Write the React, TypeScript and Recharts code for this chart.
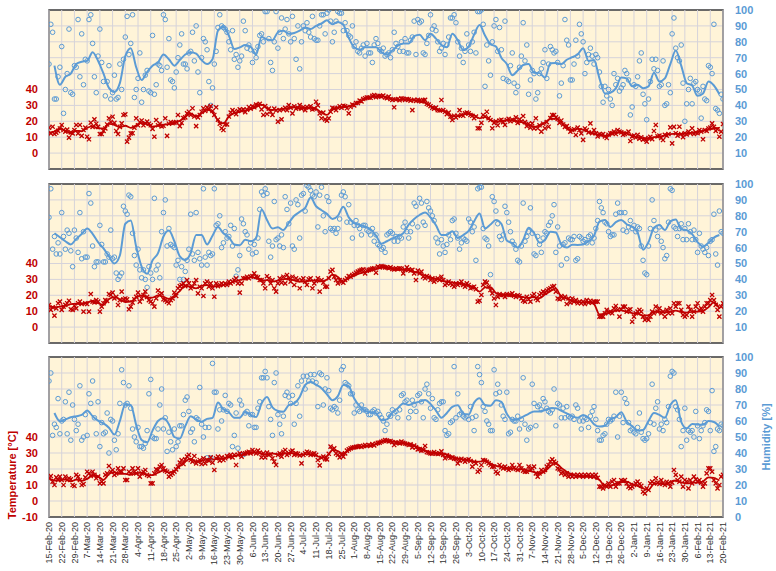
import React from 'react';
import { ComposedChart, Line, Scatter, XAxis, YAxis, CartesianGrid, ReferenceArea, ReferenceLine } from 'recharts';

// ---------- axis labels ----------
const TICK_LABELS = [
  '15-Feb-20', '22-Feb-20', '29-Feb-20', '7-Mar-20', '14-Mar-20', '21-Mar-20', '28-Mar-20',
  '4-Apr-20', '11-Apr-20', '18-Apr-20', '25-Apr-20', '2-May-20', '9-May-20', '16-May-20',
  '23-May-20', '30-May-20', '6-Jun-20', '13-Jun-20', '20-Jun-20', '27-Jun-20', '4-Jul-20',
  '11-Jul-20', '18-Jul-20', '25-Jul-20', '1-Aug-20', '8-Aug-20', '15-Aug-20', '22-Aug-20',
  '29-Aug-20', '5-Sep-20', '12-Sep-20', '19-Sep-20', '26-Sep-20', '3-Oct-20', '10-Oct-20',
  '17-Oct-20', '24-Oct-20', '31-Oct-20', '7-Nov-20', '14-Nov-20', '21-Nov-20', '28-Nov-20',
  '5-Dec-20', '12-Dec-20', '19-Dec-20', '26-Dec-20', '2-Jan-21', '9-Jan-21', '16-Jan-21',
  '23-Jan-21', '30-Jan-21', '6-Feb-21', '13-Feb-21', '20-Feb-21',
];
const DAYS_PER_TICK = 7;
const LAST_DAY = 371;
const TEMP_TICKS_TOP = [0, 10, 20, 30, 40];
const TEMP_TICKS_BOTTOM = [-10, 0, 10, 20, 30, 40];
const HUM_TICKS_TOP = [10, 20, 30, 40, 50, 60, 70, 80, 90, 100];
const HUM_TICKS_BOTTOM = [0, 10, 20, 30, 40, 50, 60, 70, 80, 90, 100];

// trend (moving average) sampling
const HUM_TREND_START = 3;
const TEMP_TREND_START = 0;
const TREND_STEP = 3;

// ---------- panel 1 ----------
const P1_HUM = [
  66, 91, 86, 44, 44, 58, 64,
  77, 35, 50, 60, 88, 48, 47,
  65, 64, 94, 58, 85, 53, 69,
  68, 94, 97, 79, 58, 48, 71,
  88, 67, 55, 46, 55, 65, 44,
  48, 59, 44, 45, 66, 50, 69,
  83, 96, 72, 79, 97, 45, 50,
  57, 73, 42, 50, 59, 62, 49,
  48, 84, 47, 53, 66, 65, 62,
  97, 94, 64, 82, 56, 55, 51,
  61, 70, 78, 85, 66, 66, 63,
  73, 74, 86, 68, 90, 61, 48,
  70, 82, 80, 75, 55, 40, 51,
  66, 74, 89, 97, 90, 89, 88,
  86, 80, 75, 87, 69, 72, 64,
  68, 71, 93, 87, 76, 78, 75,
  67, 74, 70, 77, 84, 85, 80,
  99, 99, 82, 67, 62, 80, 99,
  76, 86, 95, 82, 88, 94, 85,
  80, 96, 82, 69, 90, 63, 80,
  90, 87, 92, 86, 83, 96, 82,
  81, 81, 90, 97, 97, 85, 98,
  100, 93, 80, 86, 93, 99, 98,
  98, 87, 92, 87, 84, 83, 90,
  77, 80, 74, 73, 76, 78, 71,
  79, 73, 73, 67, 78, 82, 79,
  75, 74, 76, 71, 72, 73, 70,
  75, 86, 79, 77, 74, 80, 74,
  82, 73, 73, 81, 83, 93, 72,
  94, 92, 93, 73, 72, 79, 84,
  97, 88, 90, 87, 80, 74, 76,
  79, 72, 78, 83, 95, 95, 97,
  92, 80, 71, 76, 67, 74, 85,
  78, 74, 80, 86, 73, 99, 99,
  100, 91, 52, 78, 68, 59, 80,
  90, 94, 74, 89, 75, 57, 93,
  56, 55, 65, 73, 54, 48, 52,
  64, 71, 92, 68, 78, 47, 56,
  62, 60, 44, 48, 60, 63, 67,
  75, 57, 66, 77, 75, 73, 74,
  67, 46, 54, 65, 94, 81, 78,
  56, 56, 66, 81, 71, 91, 85,
  80, 60, 67, 72, 76, 71, 66,
  72, 70, 61, 52, 42, 52, 46,
  50, 44, 40, 60, 53, 57, 49,
  51, 53, 62, 60, 56, 34, 39,
  53, 52, 58, 68, 73, 47, 41,
  31, 44, 55, 69, 63, 69, 62,
  52, 53, 68, 40, 41, 53, 48,
  85, 95, 76, 70, 68, 78, 54,
  30, 41, 50, 57, 41, 54, 55,
  50, 49, 32, 52, 44, 43, 65,
  64, 60, 91, 38, 37, 35, 47,
  44,
];
const P1_TEMP = [
  16, 12.4, 16.6, 12, 12.9, 14, 15.5,
  17.7, 14.5, 13.5, 14.8, 9.7, 13, 12.4,
  14.5, 17.7, 12.4, 17.7, 10.8, 14.5, 16,
  10.3, 8.7, 19.1, 16.5, 21.2, 18.5, 16.5,
  12, 12, 14, 15.5, 18, 21.9, 19.6,
  22.9, 19, 13.9, 12, 16.5, 18.7, 24,
  24.4, 7.2, 9.7, 12.4, 12.5, 16, 21.9,
  17.5, 19.5, 20.5, 17.5, 18.8, 19.8, 18.5,
  17.5, 15.2, 10.3, 20.8, 17.5, 18.5, 16.8,
  17.2, 21.9, 10.8, 18.5, 19.5, 18.8, 19.2,
  19.5, 24, 17, 19, 22, 22.5, 25,
  26, 24, 28.2, 23, 17, 22.5, 24,
  26, 28.2, 26.5, 28.8, 27.5, 29.6, 26.5,
  24, 28.8, 21, 18.5, 15.6, 14.5, 18,
  18, 23, 25.5, 27, 26, 24.5, 26.5,
  27.5, 26.8, 27.5, 25.8, 27.3, 29, 28,
  29.5, 28.8, 30.5, 30.2, 31, 27.5, 24,
  29.6, 24.6, 28, 26, 24, 28, 26.8,
  19.8, 27, 21.2, 27.5, 28.5, 27, 30.2,
  28.5, 25, 29.5, 28, 28.5, 30.2, 28,
  29, 27, 29, 28.5, 29.5, 27.5, 28,
  32.3, 30, 25, 21.9, 25.5, 21.2, 20.4,
  21.9, 26, 28.5, 28, 27, 28.5, 29.5,
  28.5, 29.8, 29.5, 28.2, 25, 29, 30.5,
  30, 31.5, 31.5, 33, 32.5, 34, 34.5,
  35, 35, 34.8, 36, 36.5, 35.2, 35.8,
  36, 35.5, 36.2, 35, 34.6, 35.5, 34,
  33.5, 28.8, 33.7, 34, 33.2, 34.4, 34.2,
  33.5, 34, 33.8, 33, 27, 33.5, 32.8,
  33.5, 33, 32.5, 33.3, 33.5, 31, 30.5,
  29.5, 28.5, 28, 28.6, 27, 26.8, 33.4,
  27, 26, 24.5, 25.5, 22.9, 20.8, 23.5,
  22.5, 23.5, 27, 24, 23.5, 25, 25.5,
  25, 24, 23.5, 22, 23, 15.6, 15.6,
  19, 24, 23, 26, 22, 20.8, 15.6,
  19, 20, 17.5, 20.5, 21, 19.5, 17.7,
  20.8, 21.5, 20, 21, 20.5, 22.5, 19,
  21.2, 20, 23.3, 19.5, 17, 18.5, 16,
  18.7, 15.5, 21.9, 15.6, 17.5, 13.5, 18.5,
  15.6, 19.5, 16.6, 22, 24, 24, 22.5,
  21.5, 19, 20.5, 18, 16.5, 17, 15.5,
  13.5, 14.5, 15, 11.4, 16, 14.5, 12.4,
  8.3, 15.5, 14.5, 13, 18.7, 12.5, 14.5,
  12.5, 10.5, 12, 11.5, 12, 10.5, 9.5,
  11.5, 12.5, 12.5, 13.5, 12, 14.5, 13.5,
  13, 11.5, 12, 12.5, 13.5, 7.6, 10.5,
  11, 9.8, 11.5, 9, 10, 8.5, 9,
  7.2, 9.5, 10.2, 8.8, 13.9, 17.7, 10.5,
  11, 9.5, 8.2, 11.5, 11, 12, 16.2,
  6.1, 16.5, 12.5, 11, 16.6, 12, 10,
  12.5, 11.8, 13.5, 12.5, 15.6, 12, 13,
  12.5, 14.5, 13.5, 8.7, 14.5, 14, 15.5,
  16, 18.7, 16.5, 14, 15, 10.3, 13.5,
  18.3,
];
const P1_HUM_TREND = [
  65, 53, 58, 60, 66, 67.5, 68, 73.5, 68, 60,
  51, 48.5, 54, 71, 76, 64, 56, 61, 65, 67,
  72, 69, 65, 68.5, 72, 73.5, 72.5, 68.5, 66, 69,
  87, 89.5, 84, 75.5, 76.5, 78, 77, 72, 83, 81.5,
  81, 86, 87, 85, 85.5, 87, 89, 88, 90, 91.5,
  93.5, 91, 92.5, 90.6, 82.5, 76.5, 75, 76.5, 76.5, 76.5,
  73.5, 72, 74.5, 77.5, 79, 79, 83.5, 84.5, 81, 85,
  82, 78, 76.5, 85, 81, 74.8, 77, 84.5, 90.5, 84,
  78.5, 77, 70, 66, 59, 62, 65.4, 66, 60.5, 60.3,
  57.5, 66.5, 66.7, 66, 68.7, 70.3, 72, 76, 68, 68.5,
  57, 47.5, 48, 50.7, 57.5, 57, 52, 53, 50.8, 52,
  60.5, 55, 57, 66, 74.5, 65, 54, 52.5, 46, 47.5,
  55, 52.5, 47,
];
const P1_TEMP_TREND = [
  12.8,
  13.5, 15.6, 14, 12.5, 14, 13.8, 15.8, 17, 15.5, 15.6,
  18.4, 17.8, 16.2, 17.2, 15.9, 17.4, 19, 18.2, 16.7, 17.2,
  17.7, 18.3, 18.8, 20.3, 23, 25, 23, 25, 27.4, 25.8,
  20.5, 18.7, 23, 25.1, 26, 26.8, 27.6, 29, 30.5, 28,
  27.2, 27.4, 27.8, 28.4, 28.8, 28.2, 28.6, 28.5, 27.8, 25.5,
  24, 27.5, 28.6, 29, 29.6, 30.5, 32.2, 34, 35, 35.7,
  35.8, 35, 34, 33.5, 33.7, 33.8, 33.3, 32.4, 31.6, 29.5,
  27.6, 26.8, 25.8, 23.2, 23.2, 24.2, 24.8, 23.8, 21.9, 22.6,
  20.8, 19.8, 20, 20.8, 20.8, 20, 19.2, 17.8, 16.5, 17.5,
  19.3, 21.5, 21.5, 19.5, 15.5, 14.3, 15.2, 14.8, 13.2, 12.2,
  11.4, 10.6, 11.5, 13, 13.2, 12.4, 10.8, 10, 9.2, 9,
  10, 10.3, 11.2, 12, 12.2, 12, 12.4, 12.8, 13.3, 14,
  14.8, 15.6, 15.8,
];

// ---------- panel 2 ----------
const P2_HUM = [
  79, 97, 59, 67, 56, 63, 56,
  82, 67, 59, 71, 69, 58, 48,
  71, 66, 57, 82, 53, 70, 54,
  54, 94, 88, 61, 48, 51, 51,
  74, 62, 51, 51, 56, 54, 71,
  53, 54, 44, 40, 42, 44, 86,
  83, 81, 93, 92, 69, 55, 49,
  59, 46, 41, 46, 40, 35, 48,
  44, 40, 91, 46, 49, 41, 70,
  82, 90, 61, 72, 62, 61, 60,
  49, 52, 40, 48, 40, 45, 52,
  59, 81, 56, 52, 82, 57, 53,
  49, 97, 54, 49, 57, 55, 56,
  97, 74, 75, 80, 60, 63, 70,
  66, 67, 74, 61, 72, 42, 46,
  55, 78, 75, 70, 68, 59, 63,
  56, 62, 57, 66, 84, 95, 93,
  97, 94, 64, 54, 61, 89, 65,
  66, 61, 68, 60, 92, 84, 75,
  88, 61, 59, 90, 87, 66, 93,
  94, 83, 99, 98, 96, 93, 92,
  95, 73, 93, 98, 80, 70, 92,
  89, 72, 71, 72, 69, 72, 78,
  93, 95, 92, 76, 87, 76, 66,
  74, 77, 74, 72, 68, 74, 74,
  71, 70, 68, 72, 64, 68, 62,
  61, 59, 60, 57, 68, 69, 70,
  69, 64, 67, 64, 67, 66, 73,
  76, 70, 66, 70, 75, 88, 86,
  73, 91, 88, 76, 74, 89, 85,
  83, 80, 77, 66, 63, 56, 65,
  61, 57, 62, 68, 65, 77, 78,
  69, 66, 59, 63, 66, 65, 64,
  78, 76, 70, 73, 52, 97, 98,
  98, 72, 66, 65, 61, 43, 92,
  89, 83, 75, 67, 65, 68, 86,
  82, 76, 70, 64, 62, 59, 52,
  51, 61, 88, 64, 67, 70, 85,
  69, 56, 55, 67, 62, 57, 66,
  70, 69, 74, 76, 80, 87, 57,
  73, 61, 49, 62, 63, 53, 66,
  65, 65, 67, 52, 53, 67, 66,
  64, 65, 63, 67, 68, 63, 66,
  72, 77, 89, 85, 82, 76, 75,
  70, 67, 68, 68, 81, 88, 82,
  82, 71, 82, 70, 73, 77, 72,
  74, 70, 73, 72, 61, 52, 44,
  43, 61, 72, 90, 77, 71, 67,
  73, 64, 60, 53, 55, 76, 97,
  96, 73, 72, 67, 72, 75, 65,
  72, 65, 75, 70, 65, 71, 65,
  57, 69, 61, 59, 57, 60, 55,
  64, 65, 81, 56, 49, 83, 70,
  69,
];
const P2_TEMP = [
  13.9, 10.8, 12.5, 7.2, 11.8, 15, 16,
  10.8, 12.9, 14, 15, 16.6, 11.2, 10.8,
  13.5, 11.8, 15, 16, 14.5, 9.7, 15,
  14.5, 9.7, 20.8, 16, 15.5, 17, 16,
  9.7, 12.9, 15, 17, 16.5, 20.8, 20.2,
  21.7, 18, 19, 13.9, 17, 22.3, 17.5,
  18, 17.5, 11.2, 12.9, 15.4, 17.5, 19,
  21.7, 16, 18, 20.2, 22.3, 19, 17,
  16, 15, 12.9, 18, 23, 20.2, 21.2,
  17.5, 17, 16, 15, 17, 18, 21.7,
  19.6, 24.4, 25.8, 26.5, 27.5, 25.8, 29.6,
  27.5, 24.4, 25.4, 27.5, 29.6, 21.2, 25.4,
  24.4, 19.6, 27.5, 28.6, 25.4, 27.5, 24.4,
  19.1, 27.5, 25.8, 26.5, 27.5, 26.5, 27.5,
  26.5, 28.6, 27.5, 28.6, 29.6, 30.7, 27.5,
  21.7, 27.5, 30.7, 30.7, 31.7, 30.7, 31.7,
  32.1, 33.8, 31.7, 31.3, 29.6, 29.6, 27.5,
  24.4, 32, 30.7, 27.5, 29.6, 24.4, 22.3,
  27.5, 30.7, 28, 31.7, 27.5, 32.8, 30.7,
  28.6, 31.7, 26.5, 30.7, 29.6, 24.4, 29.6,
  30.7, 28.5, 26.5, 30, 30.7, 24.4, 27.5,
  29, 30.7, 22.3, 29.6, 28, 25.4, 25.4,
  30.7, 34.9, 36, 31.7, 29.6, 27.5, 29.6,
  28.6, 28, 29.6, 30.7, 32.1, 31.7, 32.8,
  33.4, 34.2, 34.9, 35.5, 36, 36.3, 33.8,
  35.5, 36, 36.3, 36.8, 37, 34.2, 38,
  37.6, 38.4, 38, 37.6, 37.6, 37, 37.6,
  36.5, 36.3, 37, 36.5, 37, 36.8, 33.8,
  36, 37.6, 36.3, 35.5, 36, 33.8, 29.6,
  35.5, 33.8, 34.9, 31.7, 30.7, 32.1, 31.5,
  29.6, 30.7, 28.6, 29.6, 30.7, 29.6, 31.7,
  29.6, 26.5, 27.5, 28.6, 27.5, 26.5, 25.4,
  27.5, 26.5, 27.5, 28.6, 26.5, 25.4, 27.5,
  26.5, 24.4, 25, 25.4, 23.8, 16, 16.6,
  20.2, 26.5, 28.6, 28, 25.4, 23.3, 21.2,
  18, 13.9, 19, 20.8, 20, 20.2, 19,
  20.8, 20.2, 20.2, 21.2, 19.8, 19, 20,
  19.6, 18, 16.6, 16, 19, 17.5, 16,
  19.6, 20.8, 18, 17, 20.2, 21.2, 22.3,
  21.7, 23, 23.8, 24.4, 25.4, 25.8, 22.3,
  18, 17.5, 19.6, 18, 19, 14.5, 18,
  15.4, 18, 16, 17, 15, 16, 15,
  16, 14.5, 17, 15.4, 16.6, 15.4, 16,
  16, 16, 6.6, 6.6, 6.6, 8.7, 10.8,
  9.1, 9.7, 8.7, 11.8, 13.3, 10.8, 6.6,
  11.2, 12.9, 12.9, 9.7, 10.8, 11.2, 3.4,
  6.6, 8.7, 9.7, 10.8, 9.7, 6.6, 4.5,
  5.5, 4.5, 6.6, 9.7, 8.7, 12.9, 9.7,
  11.8, 8.7, 9.7, 6.6, 10.8, 8.7, 11.8,
  8.7, 15, 12.9, 15, 15, 10.8, 7.6,
  6.6, 7.6, 12.9, 10.8, 6.6, 9.7, 12.9,
  15, 10.8, 11.8, 9.7, 12.9, 15, 15,
  17, 20.2, 17, 14, 10.8, 6.6, 12.9,
  15,
];
const P2_HUM_TREND = [
  69, 66.5, 64, 62, 65.5, 68.5, 72, 68.7, 63.5, 59.5,
  54.5, 50, 55, 75, 77, 60.5, 48, 43.5, 52, 56.5,
  67, 70.7, 64, 54.5, 52.2, 56.5, 68, 68, 62, 67.5,
  73, 69, 66.5, 62, 61.5, 65, 64, 66, 84, 77.3,
  72, 72.8, 71, 75.5, 80, 82.5, 85, 91.5, 86, 83.5,
  81.2, 78, 80, 85.7, 79, 75.3, 74.2, 73.2, 71.5, 67.5,
  62.5, 64, 65.8, 67.3, 69, 74.5, 78, 80.5, 82, 79,
  74, 68, 68, 70.3, 66, 67.9, 70.5, 76.5, 81.5, 72,
  74.5, 77.4, 75, 64.5, 62.8, 60, 64.8, 72.5, 69.2, 63,
  64.8, 70, 69.5, 62, 60, 61.8, 61.7, 62, 64, 67.5,
  76.3, 77.4, 73, 76, 77.4, 74.7, 73, 69.5, 58.7, 63.5,
  72.5, 74.2, 71, 76.5, 77.7, 71.5, 71, 68.5, 63.5, 60.6,
  63, 66.3, 67.9,
];
const P2_TEMP_TREND = [
  12.9,
  12.5, 12.9, 13.4, 14.4, 14.8, 14.5, 15.5, 16.5, 15.1, 14,
  17.6, 18.8, 17.5, 15.8, 16.1, 18.6, 19.9, 18.6, 18.6, 19.9,
  19, 17.7, 19.7, 22.7, 26, 25.3, 24.4, 26, 26.4, 25.7,
  25.8, 26.5, 27.4, 28.6, 29.6, 30.4, 31.4, 30.8, 29.3, 29.5,
  28.7, 29.3, 30.2, 30.4, 29.4, 28.6, 28.6, 29.2, 29.2, 28.8,
  29.9, 33, 31.5, 28.6, 30.8, 32.3, 33.8, 34.6, 35.5, 36.5,
  37.6, 37.4, 36.6, 36, 36.1, 35.8, 34.8, 33.8, 32.4, 31.3,
  30.3, 29.3, 28.6, 28, 27.6, 27, 26.1, 25, 22.3, 25,
  25.2, 21.5, 20.2, 20.2, 19.7, 19.6, 18.8, 18.4, 19, 18.2,
  20.5, 22.6, 24.2, 19, 18, 16.3, 15.5, 15.6, 15.8, 14.5,
  8, 8.4, 9.3, 10.3, 10.5, 9.6, 8.8, 8.4, 7.3, 7.4,
  9.7, 9.7, 9.1, 9.9, 10.3, 9.5, 9.1, 9.6, 9.7, 10.2,
  12.5, 15.5, 12,
];

// ---------- panel 3 ----------
const P3_HUM = [
  85, 90, 51, 58, 56, 74, 52,
  60, 61, 72, 52, 78, 48, 70,
  61, 54, 58, 82, 48, 50, 64,
  51, 77, 71, 85, 62, 52, 72,
  44, 59, 52, 53, 65, 40, 61,
  60, 48, 42, 52, 71, 92, 84,
  70, 71, 82, 68, 55, 50, 47,
  56, 44, 44, 43, 46, 54, 77,
  86, 50, 49, 49, 55, 70, 80,
  55, 62, 41, 53, 47, 42, 55,
  44, 47, 57, 57, 64, 73, 75,
  66, 53, 55, 47, 62, 61, 81,
  58, 50, 56, 37, 56, 37, 96,
  78, 78, 55, 67, 60, 67, 76,
  66, 71, 70, 44, 51, 65, 43,
  73, 70, 39, 65, 66, 57, 64,
  64, 56, 56, 68, 72, 87, 87,
  91, 87, 69, 61, 51, 84, 90,
  64, 58, 52, 63, 76, 78, 75,
  71, 76, 58, 71, 82, 63, 85,
  88, 80, 88, 85, 89, 85, 89,
  84, 69, 90, 89, 70, 80, 87,
  79, 68, 67, 69, 68, 65, 73,
  92, 94, 84, 83, 82, 77, 77,
  65, 70, 67, 66, 70, 67, 67,
  66, 64, 64, 66, 67, 65, 66,
  64, 62, 60, 54, 58, 64, 63,
  67, 65, 66, 62, 67, 76, 77,
  72, 73, 62, 66, 73, 70, 66,
  76, 77, 72, 62, 80, 83, 77,
  68, 74, 62, 61, 67, 71, 72,
  72, 54, 51, 52, 59, 60, 94,
  62, 77, 64, 65, 63, 62, 63,
  61, 69, 62, 54, 63, 94, 89,
  84, 69, 66, 60, 58, 54, 54,
  92, 77, 83, 78, 70, 63, 61,
  78, 52, 53, 61, 60, 60, 63,
  55, 61, 87, 58, 48, 55, 56,
  83, 71, 57, 69, 70, 67, 74,
  72, 68, 66, 65, 67, 80, 57,
  71, 70, 62, 68, 62, 69, 63,
  62, 63, 61, 70, 68, 60, 55,
  60, 62, 61, 56, 63, 66, 69,
  61, 54, 48, 48, 51, 52, 58,
  61, 60, 61, 63, 78, 50, 63,
  78, 59, 74, 71, 59, 54, 55,
  53, 52, 56, 65, 53, 49, 48,
  49, 52, 59, 83, 58, 68, 72,
  55, 58, 54, 61, 59, 69, 88,
  91, 90, 69, 67, 61, 44, 54,
  68, 48, 54, 53, 54, 50, 66,
  57, 49, 54, 57, 59, 67, 66,
  54, 79, 41, 44, 55, 54, 58,
  57,
];
const P3_TEMP = [
  14.2, 15.6, 12.1, 10, 14.8, 13.1, 15.2,
  13.1, 10, 15.2, 13.1, 14.2, 13.5, 10,
  9.4, 16.3, 15.2, 13.1, 10, 10.6, 14.8,
  18.3, 17.3, 15.6, 18.3, 16.3, 14.2, 15.2,
  11, 12.1, 11, 16.3, 17.3, 21.9, 18.3,
  19.4, 16.3, 17.3, 20.4, 18.3, 18.3, 20.4,
  13.1, 13.1, 18.3, 17.3, 20.4, 18.3, 17.3,
  20.4, 15.2, 17.3, 18.3, 19.4, 16.3, 15.6,
  11, 11, 17.3, 19.8, 19.4, 21.5, 22.5,
  20.4, 19, 18.3, 15.2, 16.3, 17.3, 18.3,
  19.8, 21.5, 24, 25.6, 23.1, 26, 27.7,
  28.8, 25.6, 24.6, 28.1, 23.5, 24.6, 25.6,
  23.1, 26.7, 23.5, 25.6, 25.2, 27.3, 24,
  19.4, 26.7, 27.7, 25.2, 27.3, 25.6, 26.7,
  28.1, 27.7, 28.8, 27.3, 28.8, 22.5, 28.8,
  29.8, 27.7, 29.4, 29.8, 30.2, 30.8, 29.8,
  31.9, 30.8, 29.8, 31.5, 30.2, 27.3, 29.8,
  27.3, 30.2, 28.8, 29.2, 26.7, 24.6, 22.5,
  28.8, 29.8, 27.7, 30.8, 31.9, 28.8, 29.8,
  30.8, 31.5, 28.8, 29.8, 29.5, 28.5, 23.5,
  28.8, 29.8, 30.8, 30.2, 28.8, 29.5, 29.8,
  28.8, 25.6, 22.3, 27, 27.7, 26.2, 26,
  29.5, 34, 32, 32.9, 29.8, 28.8, 27.3,
  29.4, 27.7, 29.8, 31.5, 32.3, 32.9, 33.4,
  33.5, 33.8, 34, 34.4, 33.8, 34.4, 35,
  34.4, 35, 34.6, 35.6, 34.8, 35.8, 36.3,
  36.5, 37, 37.5, 38.1, 37.7, 37.3, 37.5,
  36.8, 35, 36.5, 36.5, 36, 37.1, 36.3,
  35.9, 35.6, 35, 35.4, 33.5, 34.6, 33.5,
  32.3, 32.5, 31.5, 31.8, 34.4, 30.5, 30.2,
  29.8, 29.5, 30.6, 29.8, 29.4, 29.8, 31,
  28.8, 26.7, 28.5, 27.7, 27, 27.3, 26.5,
  26.3, 23.5, 25.2, 26.3, 25.6, 24.6, 25.6,
  26, 25, 21.5, 24.5, 23.5, 18.3, 19.4,
  22.5, 25.6, 25.2, 24.5, 23.5, 22.5, 21.5,
  21.5, 18.3, 17.3, 22.5, 21.2, 20.4, 21.5,
  20.4, 19.4, 20.2, 22.5, 20.8, 20, 19.4,
  22.5, 20.4, 19, 18.3, 18.3, 21.5, 19.4,
  20.4, 21.5, 17.3, 15.2, 17.3, 19.4, 18.3,
  19.4, 21.5, 22.5, 24.6, 26, 24.6, 23.5,
  20.4, 19.8, 17.3, 18.3, 16.3, 17.3, 15.2,
  16.3, 15.2, 16.3, 15.2, 16.3, 15.6, 16.3,
  15.2, 16.3, 15.6, 16.3, 15.2, 16.3, 15.2,
  16.3, 14.5, 9, 9, 7.9, 10, 9,
  11, 9, 12.1, 13.1, 9, 11, 11,
  13, 12.5, 13.1, 11, 9, 8, 9,
  10, 11, 12.1, 10.5, 9.5, 5.8, 4.8,
  7.9, 6.9, 11, 12.1, 11, 14.2, 11.5,
  10.6, 13.1, 11, 10, 12, 11, 9,
  11.5, 19.4, 16.3, 13.1, 12.1, 15.2, 9,
  13.1, 12.1, 7.9, 13.1, 11, 15.2, 13.5,
  12.1, 13.1, 11.5, 9, 11, 17.3, 20.4,
  20.4, 18.3, 13.1, 11, 7.9, 10, 15.2,
  16.3,
];
const P3_HUM_TREND = [
  65, 59.8, 61, 62.3, 63, 63.8, 66.5, 63, 60.2, 58.5,
  55.8, 51.5, 60, 70.5, 70, 57.5, 48.1, 46.6, 54, 60,
  61.7, 58, 50, 49, 56.8, 63, 61, 59.6, 61.3, 62,
  71.5, 67.3, 65.5, 62, 62, 65.7, 63.8, 62.5, 71, 75,
  68.5, 66.3, 65.8, 70, 71, 75, 82.5, 84.5, 82.6, 80.5,
  76.7, 73, 75.5, 82.5, 81.6, 74, 69.2, 66.3, 65.6, 64.8,
  60.5, 61, 65.2, 68, 71, 70, 71.3, 72.1, 73.1, 70.7,
  66.5, 62, 65, 68.8, 69.8, 64.8, 64, 71.5, 74.2, 70,
  69.5, 73, 72, 64.5, 60.8, 61, 62.7, 64.5, 66, 66,
  66.9, 67.9, 67.9, 66.4, 64.8, 63, 62, 63.8, 62, 58,
  56.5, 57, 60.8, 62.5, 65.5, 59.6, 56.8, 54, 54.4, 60,
  65, 63.8, 62, 70, 73, 59.5, 55.4, 58.2, 57.8, 57.6,
  60, 59.4, 56.5,
];
const P3_TEMP_TREND = [
  14.2,
  12.8, 13.1, 13.3, 12.3, 13.4, 12.6, 13.8, 16.1, 15.4, 13.2,
  16.8, 18, 16.9, 16.9, 16.4, 17.3, 17.7, 16.2, 16.2, 17.7,
  19, 17.8, 18.9, 21.8, 24.8, 26.3, 24.7, 25.1, 26, 25.9,
  26.4, 26.7, 27.4, 28, 28.8, 29.5, 30, 30.2, 29.6, 28.8,
  29.7, 29.1, 29.5, 30.1, 29.6, 28.8, 29.3, 29, 28.3, 27.2,
  28, 31.8, 31.2, 29.4, 31.8, 33, 33.7, 34.1, 34.6, 35.5,
  36.8, 37.5, 37.3, 36.4, 36, 35.7, 34.6, 33.2, 31.6, 30.2,
  29.8, 29.5, 29.1, 27.6, 26.5, 26, 25.7, 24.5, 24.6, 25.4,
  23.4, 22, 21.3, 20.4, 20.4, 19.7, 19.9, 19, 18.1, 17.3,
  18.5, 21.9, 23.5, 20.7, 18.3, 16.6, 15.6, 15.2, 15.2, 14.8,
  13.1, 9.5, 9.5, 10.8, 11.8, 12.1, 10.4, 9.5, 7.8, 7,
  10.7, 11, 10.3, 12, 12.8, 11.6, 11, 11.4, 11.5, 12.2,
  14.8, 14.5, 12.8,
];

// ---------- styling ----------
const RED = '#C00000';
const BLUE = '#5B9BD5';
const PLOT_BG = '#FFF4D8';
const GRID = '#D6D3DA';
const BORDER = '#404040';
const FONT = '"Liberation Sans", Arial, sans-serif';

const TICK_DAYS = TICK_LABELS.map((_, i) => i * DAYS_PER_TICK);

const daily = (vals: number[]) => vals.map((v, i) => ({ d: i, v }));
const sampled = (vals: number[], start: number) =>
  vals.map((v, i) => ({ d: start + i * TREND_STEP, v }));

const Cross = (props: any) => {
  const { cx, cy } = props;
  if (cx == null || cy == null || isNaN(cx) || isNaN(cy)) return <g />;
  const s = 2.1;
  return (
    <path
      d={`M${cx - s},${cy - s}L${cx + s},${cy + s}M${cx - s},${cy + s}L${cx + s},${cy - s}`}
      stroke={RED}
      strokeWidth={1.3}
      fill="none"
    />
  );
};

const Ring = (props: any) => {
  const { cx, cy } = props;
  if (cx == null || cy == null || isNaN(cx) || isNaN(cy)) return <g />;
  return <circle cx={cx} cy={cy} r={2.3} stroke={BLUE} strokeWidth={1} fill="none" />;
};

const XTick = (props: any) => {
  const { x, y, payload } = props;
  const label = TICK_LABELS[Math.round(payload.value / DAYS_PER_TICK)];
  return (
    <text
      x={x}
      y={y}
      transform={`rotate(-90 ${x} ${y})`}
      textAnchor="end"
      dy="0.35em"
      fill="#333333"
      fontSize={9}
      fontFamily={FONT}
    >
      {label}
    </text>
  );
};

type PanelProps = {
  top: number;
  height: number;
  showX: boolean;
  hum: number[];
  temp: number[];
  humTrend: number[];
  tempTrend: number[];
  tempTicks: number[];
  humTicks: number[];
};

function Panel({ top, height, showX, hum, temp, humTrend, tempTrend, tempTicks, humTicks }: PanelProps) {
  const xHeight = showX ? 50 : 0;
  const bottom = showX ? 4 : 11;
  return (
    <div style={{ position: 'absolute', left: 0, top, width: 776, height }}>
      <ComposedChart width={776} height={height} margin={{ top: 10, right: 0, bottom, left: 0 }}>
        <CartesianGrid
          yAxisId="h"
          vertical={false}
          stroke={GRID}
          strokeWidth={1}
          fill={PLOT_BG}
          fillOpacity={1}
        />
        <XAxis
          dataKey="d"
          type="number"
          domain={[0, LAST_DAY]}
          ticks={TICK_DAYS}
          interval={0}
          allowDataOverflow
          height={xHeight}
          tick={showX ? <XTick /> : false}
          tickLine={false}
          axisLine={false}
          tickSize={3}
          tickMargin={2}
        />
        <YAxis
          yAxisId="t"
          orientation="left"
          type="number"
          domain={[-10, 90]}
          ticks={tempTicks}
          interval={0}
          allowDataOverflow
          width={49}
          tickLine={false}
          axisLine={false}
          tickSize={6}
          tickMargin={5}
          tick={{ fill: RED, fontSize: 11, fontWeight: 700, fontFamily: FONT }}
        />
        <YAxis
          yAxisId="h"
          orientation="right"
          type="number"
          domain={[0, 100]}
          ticks={humTicks}
          interval={0}
          allowDataOverflow
          width={53}
          tickLine={false}
          axisLine={false}
          tickSize={6}
          tickMargin={6}
          tick={{ fill: BLUE, fontSize: 11, fontWeight: 700, fontFamily: FONT }}
        />
        {TICK_DAYS.map((d) => (
          <ReferenceLine key={`v${d}`} yAxisId="h" x={d} stroke={GRID} strokeWidth={1} ifOverflow="visible" />
        ))}
        <Scatter yAxisId="h" data={daily(hum)} dataKey="v" shape={Ring} isAnimationActive={false} />
        <Line
          yAxisId="h"
          data={sampled(humTrend, HUM_TREND_START)}
          dataKey="v"
          type="monotone"
          stroke={BLUE}
          strokeWidth={2}
          dot={false}
          activeDot={false}
          isAnimationActive={false}
        />
        <Scatter yAxisId="t" data={daily(temp)} dataKey="v" shape={Cross} isAnimationActive={false} />
        <Line
          yAxisId="t"
          data={sampled(tempTrend, TEMP_TREND_START)}
          dataKey="v"
          type="monotone"
          stroke={RED}
          strokeWidth={1.8}
          dot={false}
          activeDot={false}
          isAnimationActive={false}
        />
        <ReferenceArea
          yAxisId="h"
          x1={0}
          x2={LAST_DAY}
          y1={0}
          y2={100}
          fill="none"
          fillOpacity={0}
          stroke={BORDER}
          strokeWidth={1.5}
          ifOverflow="visible"
        />
      </ComposedChart>
    </div>
  );
}

export default function App() {
  return (
    <div style={{ position: 'absolute', left: 0, top: 0, width: 776, height: 571, background: '#ffffff', fontFamily: FONT }}>
      <Panel
        top={0}
        height={180}
        showX={false}
        hum={P1_HUM}
        temp={P1_TEMP}
        humTrend={P1_HUM_TREND}
        tempTrend={P1_TEMP_TREND}
        tempTicks={TEMP_TICKS_TOP}
        humTicks={HUM_TICKS_TOP}
      />
      <Panel
        top={174}
        height={180}
        showX={false}
        hum={P2_HUM}
        temp={P2_TEMP}
        humTrend={P2_HUM_TREND}
        tempTrend={P2_TEMP_TREND}
        tempTicks={TEMP_TICKS_TOP}
        humTicks={HUM_TICKS_TOP}
      />
      <Panel
        top={347}
        height={224}
        showX={true}
        hum={P3_HUM}
        temp={P3_TEMP}
        humTrend={P3_HUM_TREND}
        tempTrend={P3_TEMP_TREND}
        tempTicks={TEMP_TICKS_BOTTOM}
        humTicks={HUM_TICKS_BOTTOM}
      />
      <svg width={776} height={571} style={{ position: 'absolute', left: 0, top: 0, pointerEvents: 'none' }}>
        <text
          transform="translate(12 475) rotate(-90)"
          textAnchor="middle"
          dominantBaseline="central"
          fill={RED}
          fontSize={11}
          fontWeight={700}
          fontFamily={FONT}
        >
          Temperature [°C]
        </text>
        <text
          transform="translate(766 437) rotate(-90)"
          textAnchor="middle"
          dominantBaseline="central"
          fill={BLUE}
          fontSize={11}
          fontWeight={700}
          fontFamily={FONT}
        >
          Humidity [%]
        </text>
      </svg>
    </div>
  );
}
